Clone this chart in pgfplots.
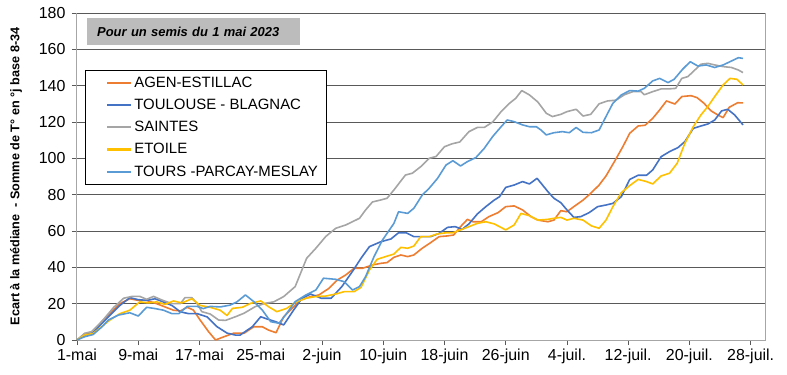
\documentclass[border=0pt]{standalone}
\usepackage{pgfplots}
\pgfplotsset{compat=1.18}
\usepackage{fontspec}
\setmainfont{Liberation Sans}
\definecolor{cAgen}{HTML}{ED7D31}
\definecolor{cTlse}{HTML}{4472C4}
\definecolor{cSaintes}{HTML}{A5A5A5}
\definecolor{cEtoile}{HTML}{FFC000}
\definecolor{cTours}{HTML}{5B9BD5}
\definecolor{gridc}{HTML}{595959}
\definecolor{axc}{HTML}{A6A6A6}
\begin{document}
\begin{tikzpicture}
\begin{axis}[
  scale only axis, width=689bp, height=327bp,
  xmin=0, xmax=90, ymin=0, ymax=180,
  xtick={0,8,...,88},
  xticklabels={1-mai,9-mai,17-mai,25-mai,2-juin,10-juin,18-juin,26-juin,4-juil.,12-juil.,20-juil.,28-juil.},
  ytick={0,20,...,180},
  ymajorgrids, grid style={gridc, line width=0.9bp},
  axis lines*=left,
  axis line style={axc, line width=1bp},
  tick style={gridc, line width=0.8bp},
  tick align=outside, major tick length=5bp,
  ticklabel style={font=\fontsize{16}{18}\selectfont},
  /pgf/number format/assume math mode=true,
  yticklabel style={xshift=-3bp},
  ylabel={Ecart à la médiane\ \ - Somme de T° en °j base 8-34},
  ylabel style={font=\bfseries\fontsize{12.7}{14}\selectfont, at={(axis description cs:-0.0885,0.5)}, anchor=center},
  legend style={at={(rel axis cs:0.0116,0.826)}, anchor=north west, draw=black, line width=0.6bp,
    font=\fontsize{15}{16}\selectfont, inner xsep=6bp, inner ysep=5bp, row sep=6.2bp},
  legend cell align=left,
  legend image code/.code={\path[draw=none, fill=none] (0bp,-1bp) rectangle (40bp,1bp); \draw[#1, line width=2.2bp] (16bp,0bp) -- (40bp,0bp);},
  every axis plot/.append style={line width=1.6bp, line join=round},
  clip=false,
]
\draw[axc, line width=1bp] (rel axis cs:1,0) -- (rel axis cs:1,1);
\node[anchor=north west, fill=axc!75, minimum height=27bp, text width=193bp, inner xsep=10bp, align=left,
  font=\bfseries\itshape\fontsize{13}{15}\selectfont] at (rel axis cs:0.0145,0.9847) {Pour un semis du 1 mai 2023};
% AGEN-ESTILLAC
\addplot[cAgen] coordinates {
(0,0)(1,3.3)(2.1,4)(3.2,10)(4.3,14.5)(5.6,20)(6.9,22.7)(8,21.8)(9.1,21.8)(10.4,20)(11.5,18.2)(12.6,16.4)(13.5,16)(14.4,18)(15.2,16.5)(16.1,10.9)(17.2,4.5)(18.1,0)(19.2,1.8)(20.5,3.8)(21.8,3.7)(23.1,7.3)(24.2,7.3)(25,5.5)(26,4)(27,12.8)(28.1,17.4)(29.2,22)(30.5,23.9)(31.6,24.8)(32.9,28.4)(34,33)(35.1,35.8)(36.2,39.5)(37.3,39.5)(38.6,41.3)(39.7,42.2)(40.5,42.6)(41.4,45.5)(42.3,46.8)(43.2,45.9)(44,46.8)(45.1,50.5)(46.2,53.6)(47.3,56.9)(48.4,57.3)(49.2,57.8)(50.1,62.4)(51,66.4)(51.7,65.1)(52.8,65.1)(53.8,67.9)(55,70.1)(56,73.4)(57.1,73.8)(58.2,71.6)(59.3,67.9)(60.2,66)(61.5,65.1)(62.3,66)(63.2,71.2)(64,70.6)(64.9,73.4)(66.1,77)(67.1,80.7)(68.2,85.3)(69.1,90.3)(70.2,98.2)(71.3,106.4)(72.2,113.8)(73.3,117.8)(74.2,118.2)(75.2,122)(76.1,126.6)(77,131.6)(78.1,129.9)(79,134)(80.2,134.5)(81,133.4)(81.9,130.3)(82.8,126.2)(83.7,123.9)(84.4,122.4)(85.2,128.1)(86.3,130.6)(87,130.5)};
\addlegendentry{AGEN-ESTILLAC}
% TOULOUSE - BLAGNAC
\addplot[cTlse] coordinates {
(0,0)(1,2.7)(2.1,4)(3.2,9)(4.3,13.6)(5.6,19)(6.9,23.3)(8,22.2)(9.1,21.8)(10.2,22.7)(11.3,20.9)(12.4,19)(13.5,15.5)(14.6,14.5)(15.7,14.5)(17,12.7)(18.3,7.3)(19.6,3.8)(20.7,2.7)(21.3,2.7)(22.9,7.3)(24,12.8)(24.6,11.9)(26,10)(27,8.3)(28.3,16.5)(29.4,23)(30.5,25.3)(31.9,23)(33.2,23)(34.6,29.4)(36.1,38.5)(37.1,45)(38.2,51.4)(39.7,54.1)(41,55.6)(42,59)(43,59)(44,56.9)(45.1,56.9)(46.2,56.9)(47.3,58.7)(48.4,62)(49.4,62.4)(50.3,60.9)(51.2,63.9)(52.3,69.4)(53.4,73.4)(54.5,77)(55.2,78.9)(56,84)(57.1,85.3)(58.2,87.2)(59.1,85.9)(60.1,89)(61.5,81.7)(62.3,78)(63.2,75.6)(64,71.6)(64.9,67.5)(65.8,67.9)(66.9,70.1)(68,73.4)(69.1,74.3)(70,75.2)(71.1,78.9)(72.2,88.4)(73.3,90.7)(74.4,90.7)(75.2,93.6)(76.3,100.9)(77.4,103.7)(78.5,105.9)(79.4,109.2)(80.5,116.5)(81.5,117.8)(82.4,118.9)(83.3,121.1)(84.2,126.1)(85,127)(85.9,123.9)(87,118.4)};
\addlegendentry{TOULOUSE - BLAGNAC}
% SAINTES
\addplot[cSaintes] coordinates {
(0,0)(1,3.7)(1.9,4.6)(3.2,10)(4.8,18)(6.1,23)(7.2,24)(8.2,24)(9.1,22.4)(10,24)(11.1,22)(12.4,20)(13.5,20)(14.1,23.3)(15,23.3)(15.7,20)(16.3,15.6)(17.4,14.3)(18.5,11)(19.4,10.8)(20.7,12.8)(21.8,14.7)(23.3,18.4)(24.6,20.2)(25.7,21)(27,23.9)(28.5,29.4)(29.2,36.7)(30,45)(31.2,50.5)(32.5,57)(33.8,61.5)(35.1,63.3)(36.9,67)(37.7,71.6)(38.6,76)(39.6,77)(40.5,78)(41.4,82.6)(42.9,90.8)(43.8,91.8)(44.9,95.4)(46,100)(46.9,101)(48,106.4)(49,108)(50,109)(51.2,114.7)(52.3,117)(53.2,117)(54.3,120)(55.4,125.7)(56.5,130.3)(57.3,133)(58.1,137.3)(59.1,134.9)(60.2,131)(61.3,124.8)(62.1,123)(63.2,124.2)(64,125.7)(65.2,127)(66.1,123.3)(67.1,124.2)(68.2,130)(69.3,131.6)(70.4,132)(71.5,135)(72.6,136.7)(73.7,136.7)(74.1,135)(75.2,136.7)(76.3,138.2)(77.2,138.2)(78.2,138.5)(79,144)(79.8,145)(80.7,148.6)(81.5,151.8)(82.4,152.3)(83.3,151.4)(84.4,150.5)(85.5,150)(86.4,148.6)(87,147.2)};
\addlegendentry{SAINTES}
% ETOILE
\addplot[cEtoile] coordinates {
(0,0)(1,2.7)(2.1,3.6)(3.2,7.3)(4.3,11)(5.6,14.5)(6.9,16.4)(8.2,21)(9.3,20.4)(10.4,21)(11.5,19.6)(12.6,21.5)(13.7,20.4)(15,22.7)(16.1,19)(17.4,18)(18.7,16.4)(19.6,13.5)(20.3,17.4)(21.6,18)(22.7,20.2)(24,21.5)(25,18.4)(26.1,15.6)(27.4,17.4)(28.5,20.6)(29.9,23)(31.2,23.9)(32.5,24.2)(33.8,25.3)(34.9,26.6)(36.2,26.6)(37.1,29)(38.2,38.5)(39.2,44.4)(40.3,45.9)(41.4,47.3)(42.3,51)(43.2,50.5)(44,51.7)(44.9,56.9)(46,56.9)(47.1,58.4)(48.2,59)(49.1,59)(50.1,60.6)(51.2,62.4)(52.3,64.2)(53.4,65.1)(54.5,63.9)(56,60.6)(57.1,63.3)(58,69.7)(59.1,68.4)(60.2,66)(61.5,66.4)(62.3,67)(63.2,67.5)(64,66)(64.9,67)(66.1,66)(67.2,62.8)(68.2,61.5)(69.1,66)(70,73.4)(71.1,81.1)(72.2,85)(73.3,88.4)(74.4,87.2)(75.2,85.9)(76.3,90.3)(77.4,91.8)(78.4,97.3)(79.4,108.3)(80.5,117.4)(81.5,123.9)(82.4,128.5)(83.3,134)(84.4,140.4)(85.3,144)(86.2,143.5)(87,140.4)};
\addlegendentry{ETOILE}
% TOURS -PARCAY-MESLAY
\addplot[cTours] coordinates {
(0,0)(1,1.8)(2.1,3)(3.2,7)(4.1,11)(5.4,13.7)(6.9,15)(8,13.2)(9.1,18)(10.2,17.3)(11.3,16.4)(12.4,14.5)(13.3,14.5)(14.4,18.5)(15.7,18.5)(16.5,17.3)(17.4,18.5)(18.7,18.2)(20,19.2)(20.9,21)(22,24.8)(23.1,21.1)(24.2,16.5)(25.3,10.1)(26.4,9.2)(27.4,14.7)(28.5,21.1)(29.9,24.8)(31.2,27.5)(32.2,34)(33.8,33.4)(34.9,32.1)(36,27.5)(36.9,29.4)(37.7,34.9)(38.8,45.9)(39.9,55)(40.5,58.7)(41.4,64.2)(42,70.6)(43.2,69.7)(44,72.5)(45.1,79.8)(46,83.5)(47.1,89)(48.2,96.3)(49.1,98.7)(50.1,95.8)(51,98.2)(52.1,100.4)(53.2,105.5)(54.3,112)(55.4,117.4)(56.2,121.1)(57.1,120.2)(58.2,118.4)(59.1,117.4)(60,117.4)(60.6,115.6)(61.3,112.9)(62.3,114.1)(63.4,114.7)(64.3,114.1)(65.2,117)(66.1,114.3)(67.2,114.1)(68.2,115.6)(69.1,123)(70,130.3)(71.1,134.9)(72.2,137.3)(73.3,137)(74.1,138.5)(75.2,142.6)(76.1,144)(77.2,141.7)(78,143.5)(79.1,149)(80.1,153.2)(81.1,150.8)(82.2,151.4)(83.3,150)(84.4,151.4)(85.5,153.6)(86.4,155.4)(87,155)};
\addlegendentry{TOURS -PARCAY-MESLAY}
\end{axis}
\pgfresetboundingbox
\useasboundingbox (current axis.south west) ++(-77bp,-35bp) rectangle ++(787bp,375bp);
\end{tikzpicture}
\end{document}
